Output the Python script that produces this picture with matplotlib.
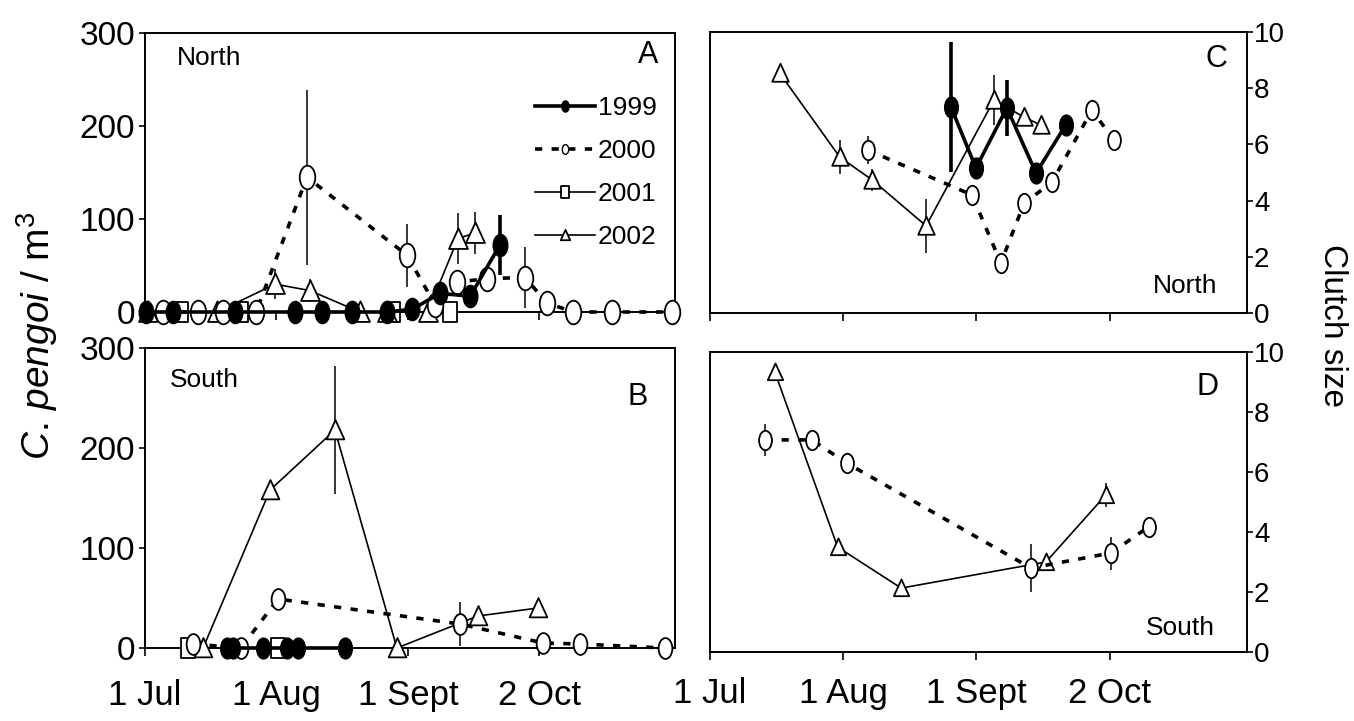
import matplotlib
matplotlib.use("Agg")
import matplotlib.pyplot as plt
from matplotlib.path import Path
from matplotlib.transforms import Affine2D
from matplotlib.lines import Line2D
from matplotlib.ticker import FixedLocator

plt.rcParams["font.family"] = ["Liberation Sans", "DejaVu Sans"]
plt.rcParams["mathtext.fontset"] = "custom"
plt.rcParams["mathtext.it"] = "Liberation Sans:italic"
plt.rcParams["mathtext.rm"] = "Liberation Sans"

# x values are days after 1 July
# --- A: North, C. pengoi density
a99_day = [0.2, 6.6, 21.2, 35.4, 41.7, 48.8, 57.1, 63.0, 69.6, 76.7, 83.7]
a99_val = [0, 0, 0, 0, 0, 0, 0, 3, 20, 17, 72]
a99_err = [0, 0, 0, 0, 0, 0, 0, 0, 0, 12, 32]
a00_day = [4.2, 12.5, 18.4, 26.2, 38.2, 61.8, 68.4, 73.6, 80.7, 89.6, 94.8, 100.9, 110.1, 124.3]
a00_val = [0, 0, 0, 0, 145, 61, 8, 32, 36, 37, 10, 0, 0, 0]
a00_err = [0, 0, 0, 0, 94, 34, 0, 12, 15, 33, 0, 0, 0, 0]
a01_day = [8.5, 22.6, 58.5, 71.9]
a01_val = [0, 0, 0, 0]
a02_day = [0.7, 17.0, 30.7, 38.9, 50.7, 57.1, 66.7, 73.8, 77.8]
a02_val = [0, 0, 30, 23, 0, 0, 0, 79, 85]
a02_err = [0, 0, 16, 12, 0, 0, 0, 27, 23]

# --- B: South, C. pengoi density
b99_day = [19.3, 20.8, 27.8, 33.5, 36.1, 47.2]
b99_val = [0, 0, 0, 0, 0, 0]
b00_day = [11.3, 22.6, 31.4, 74.3, 93.9, 102.6, 122.6]
b00_val = [4, 0, 49, 24, 5, 4, 0]
b00_err = [0, 0, 0, 22, 0, 0, 0]
b01_day = [10.1, 31.4]
b01_val = [0, 0]
b02_day = [13.7, 29.5, 44.8, 59.4, 78.5, 92.7]
b02_val = [0, 158, 218, 0, 32, 40]
b02_err = [0, 0, 64, 0, 0, 0]

# --- C: North, clutch size
c99_day = [56.1, 61.9, 69.1, 75.9, 82.8]
c99_val = [7.33, 5.16, 7.3, 4.98, 6.69]
c99_err = [2.3, 0, 1.0, 0, 0]
c00_day = [36.7, 61.0, 67.7, 73.1, 79.6, 88.9, 94.0]
c00_val = [5.8, 4.2, 1.78, 3.9, 4.66, 7.22, 6.16]
c00_err = [0.5, 0, 0, 0, 0.3, 0.3, 0.35]
c02_day = [16.2, 30.2, 37.8, 50.3, 66.1, 73.1, 77.0]
c02_val = [8.54, 5.55, 4.73, 3.1, 7.58, 6.97, 6.69]
c02_err = [0, 0.6, 0.4, 0.95, 0.9, 0, 0]

# --- D: South, clutch size
d00_day = [12.8, 23.7, 31.8, 74.7, 93.3, 102.1]
d00_val = [7.07, 7.07, 6.3, 2.8, 3.3, 4.17]
d00_err = [0.53, 0, 0.1, 0.8, 0.55, 0.1]
d02_day = [15.1, 29.7, 44.5, 78.2, 92.1]
d02_val = [9.33, 3.5, 2.13, 3.0, 5.23]
d02_err = [0, 0, 0, 0, 0.4]

tick_days = [0, 31, 62, 93]
tick_labels = ["1 Jul", "1 Aug", "1 Sept", "2 Oct"]
years = ["1999", "2000", "2001", "2002"]

# squashed marker shapes, like the scanned figure
ELL = Path.unit_circle().transformed(Affine2D().scale(0.66, 1.0))
RECT = Path([(-0.7, -1), (0.7, -1), (0.7, 1), (-0.7, 1), (-0.7, -1)],
            [Path.MOVETO, Path.LINETO, Path.LINETO, Path.LINETO, Path.CLOSEPOLY])
TRI = Path([(0, 1), (-0.85, -0.85), (0.85, -0.85), (0, 1)],
           [Path.MOVETO, Path.LINETO, Path.LINETO, Path.CLOSEPOLY])

DASH = (0, (2.0, 2.6))
st99 = dict(color="black", lw=2.6, marker=ELL, mfc="black", mec="black")
st00 = dict(color="black", lw=2.6, ls=DASH, marker=ELL, mfc="white", mec="black", mew=1.3)
st01 = dict(color="black", lw=1.2, marker=RECT, mfc="white", mec="black", mew=1.3)
st02 = dict(color="black", lw=1.2, marker=TRI, mfc="white", mec="black", mew=1.3)

FS = 19       # panel text, legend
FS_Y = 24     # left-hand tick labels
FS_X = 25     # date labels


def draw(ax, days, vals, errs, style, ms, elw=1.1, z=3):
    if errs is not None:
        ax.errorbar(days, vals, yerr=errs, fmt="none", ecolor="black",
                    elinewidth=elw, capsize=0, zorder=z - 0.5, clip_on=False)
    ax.plot(days, vals, ms=ms, zorder=z, clip_on=False, **style)


W, H = 1354, 721
fig = plt.figure(figsize=(W / 100, H / 100), dpi=100)


def box(l, r, t, b):
    return [l / W, 1 - b / H, (r - l) / W, (b - t) / H]


axA = fig.add_axes(box(145, 675, 33, 312))
axB = fig.add_axes(box(145, 675, 348, 648))
axC = fig.add_axes(box(710, 1247, 32, 313))
axD = fig.add_axes(box(710, 1247, 352, 652))

for ax in (axA, axB, axC, axD):
    ax.set_xlim(0, 125)
    ax.set_xticks(tick_days)
    ax.tick_params(axis="x", direction="out", length=6, width=1.2, pad=16, labelsize=FS_X)
    for s in ax.spines.values():
        s.set_linewidth(1.4)
axD.tick_params(axis="x", pad=12)

for ax in (axA, axB):
    ax.set_ylim(0, 300)
    ax.set_yticks([0, 100, 200, 300])
    ax.tick_params(axis="y", direction="out", length=4, width=1.2, pad=3, labelsize=FS_Y)

for ax in (axC, axD):
    ax.set_ylim(0, 10)
    ax.set_yticks([0, 2, 4, 6, 8, 10])
    ax.yaxis.set_minor_locator(FixedLocator([0, 10]))
    ax.tick_params(axis="y", which="major", left=False, right=True, labelleft=False,
                   labelright=True, direction="out", length=4, width=1.2, pad=1, labelsize=FS + 1)
    ax.tick_params(axis="y", which="minor", left=True, right=False, direction="out",
                   length=4, width=1.2)

axA.tick_params(axis="x", labelbottom=False)
axC.tick_params(axis="x", labelbottom=False)
axB.set_xticklabels(tick_labels)
axD.set_xticklabels(tick_labels)

# A
draw(axA, a01_day, a01_val, None, st01, 15, z=3)
draw(axA, a02_day, a02_val, a02_err, st02, 16, z=4)
draw(axA, a00_day, a00_val, a00_err, st00, 17, z=5)
draw(axA, a99_day, a99_val, a99_err, st99, 16, elw=2.6, z=6)
# B
draw(axB, b01_day, b01_val, None, st01, 15, z=3)
draw(axB, b02_day, b02_val, b02_err, st02, 15, z=4)
draw(axB, b00_day, b00_val, b00_err, st00, 15, z=5)
draw(axB, b99_day, b99_val, None, st99, 15, elw=2.6, z=6)
# C
draw(axC, c02_day, c02_val, c02_err, st02, 14, z=4)
draw(axC, c00_day, c00_val, c00_err, st00, 14, z=5)
draw(axC, c99_day, c99_val, c99_err, st99, 15, elw=2.6, z=6)
# D
draw(axD, d02_day, d02_val, d02_err, st02, 13, z=4)
draw(axD, d00_day, d00_val, d00_err, st00, 14, z=5)

# legend in panel A
handles = [
    Line2D([], [], ms=8, **st99),
    Line2D([], [], ms=7, **{**st00, "mew": 1.0}),
    Line2D([], [], ms=8, **st01),
    Line2D([], [], ms=8, **st02),
]
axA.legend(handles, years, loc="upper left", bbox_to_anchor=(0.735, 0.775),
           frameon=False, fontsize=FS, handlelength=2.3, handletextpad=0.1,
           labelspacing=0.72, borderaxespad=0, borderpad=0)

# panel annotations
axA.text(0.06, 0.885, "North", transform=axA.transAxes, fontsize=FS, va="baseline")
axA.text(0.968, 0.892, "A", transform=axA.transAxes, fontsize=FS + 3, va="baseline", ha="right")
axB.text(0.047, 0.87, "South", transform=axB.transAxes, fontsize=FS, va="baseline")
axB.text(0.949, 0.81, "B", transform=axB.transAxes, fontsize=FS + 3, va="baseline", ha="right")
axC.text(0.963, 0.875, "C", transform=axC.transAxes, fontsize=FS + 3, va="baseline", ha="right")
axC.text(0.944, 0.071, "North", transform=axC.transAxes, fontsize=FS, va="baseline", ha="right")
axD.text(0.946, 0.857, "D", transform=axD.transAxes, fontsize=FS + 3, va="baseline", ha="right")
axD.text(0.940, 0.057, "South", transform=axD.transAxes, fontsize=FS, va="baseline", ha="right")

fig.text(37 / W, 1 - 336 / H, r"$\mathit{C.}\,\mathit{pengoi}$ / m$^{3}$", rotation=90,
         ha="center", va="center", fontsize=28)
fig.text(1333 / W, 1 - 325 / H, "Clutch size", rotation=270,
         ha="center", va="center", fontsize=24)

fig.savefig("out.png", dpi=100)
